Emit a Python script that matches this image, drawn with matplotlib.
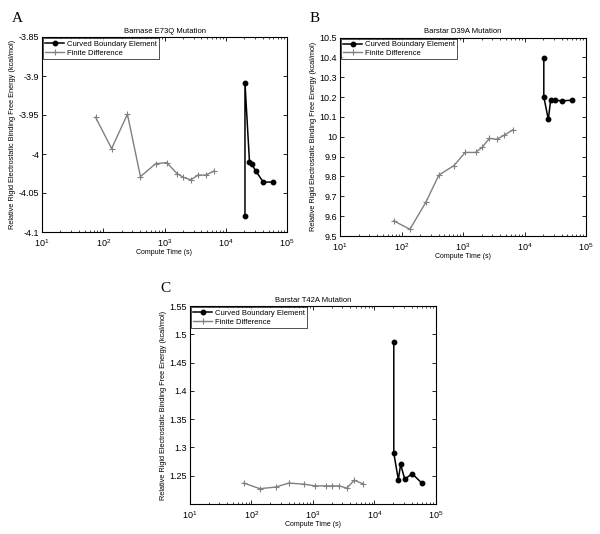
import matplotlib
matplotlib.use("Agg")
import matplotlib.pyplot as plt
from matplotlib.ticker import LogLocator, NullFormatter, FixedLocator

plt.rcParams['font.family'] = ['Liberation Sans', 'DejaVu Sans']
plt.rcParams['mathtext.fontset'] = 'custom'
plt.rcParams['mathtext.rm'] = 'Liberation Sans'

# Data
fd_time = [75, 137, 248, 405, 715, 1085, 1600, 2040, 2690, 3550, 4690, 6400]
cbe_time = [20600, 20600, 24400, 26600, 31000, 41000, 58800]

fd_A = [-3.953, -3.993, -3.949, -4.029, -4.0125, -4.011, -4.025, -4.030, -4.033, -4.027, -4.027, -4.022]
cbe_A = [-4.080, -3.909, -4.010, -4.013, -4.022, -4.036, -4.036]

fd_B = [9.576, 9.534, 9.669, 9.807, 9.855, 9.921, 9.921, 9.946, 9.992, 9.987, 10.008, 10.034]
cbe_B = [10.398, 10.201, 10.087, 10.184, 10.184, 10.181, 10.184]

fd_C = [1.237, 1.227, 1.230, 1.237, 1.235, 1.232, 1.232, 1.232, 1.232, 1.228, 1.242, 1.236]
cbe_C = [1.486, 1.290, 1.243, 1.270, 1.244, 1.2535, 1.237]

titles = ["Barnase E73Q Mutation", "Barstar D39A Mutation", "Barstar T42A Mutation"]
letters = ["A", "B", "C"]
ylims = [(-4.1, -3.85), (9.5, 10.5), (1.2, 1.55)]
yticks = [
    [-4.1, -4.05, -4.0, -3.95, -3.9, -3.85],
    [9.5, 9.6, 9.7, 9.8, 9.9, 10.0, 10.1, 10.2, 10.3, 10.4, 10.5],
    [1.25, 1.3, 1.35, 1.4, 1.45, 1.5, 1.55],
]
yticklabels = [
    ["-4.1", "-4.05", "-4", "-3.95", "-3.9", "-3.85"],
    ["9.5", "9.6", "9.7", "9.8", "9.9", "10", "10.1", "10.2", "10.3", "10.4", "10.5"],
    ["1.25", "1.3", "1.35", "1.4", "1.45", "1.5", "1.55"],
]
fd_all = [fd_A, fd_B, fd_C]
cbe_all = [cbe_A, cbe_B, cbe_C]

W, H = 600, 534
fig = plt.figure(figsize=(W / 100, H / 100), dpi=100)

# pixel boxes: left, top, right, bottom
boxes = [(42, 37, 287, 232), (340, 37.5, 586, 236), (190, 306, 436, 504)]
letter_pos = [(12, 22), (310, 22), (160, 292)]

gray = '#808080'
for i in range(3):
    l, t, r, b = boxes[i]
    ax = fig.add_axes([l / W, 1 - b / H, (r - l) / W, (b - t) / H])
    ax.plot(cbe_time, cbe_all[i], color='black', lw=1.1, marker='o', ms=3.2,
            label='Curved Boundary Element')
    ax.plot(fd_time, fd_all[i], color=gray, lw=1.0, marker='+', ms=5, mew=0.8,
            label='Finite Difference')
    ax.set_xscale('log')
    ax.set_xlim(10, 1e5)
    ax.set_ylim(*ylims[i])
    ax.xaxis.set_major_locator(FixedLocator([10, 100, 1000, 1e4, 1e5]))
    ax.xaxis.set_minor_locator(LogLocator(base=10, subs=range(2, 10), numticks=20))
    ax.xaxis.set_minor_formatter(NullFormatter())
    ax.set_yticks(yticks[i])
    ax.set_yticklabels(yticklabels[i])
    ax.tick_params(which='both', direction='in', top=True, right=True,
                   labelsize=6.5)
    ax.tick_params(axis='x', pad=3.5)
    ax.tick_params(axis='y', pad=2)
    ax.tick_params(which='major', length=3, width=0.6)
    ax.tick_params(which='minor', length=1.6, width=0.5)
    for s in ax.spines.values():
        s.set_linewidth(0.8)
    ax.set_title(titles[i], fontsize=5.5, pad=3)
    ax.set_xlabel('Compute Time (s)', fontsize=5, labelpad=0.5)
    ax.set_ylabel('Relative Rigid Electrostatic Binding Free Energy (kcal/mol)',
                  fontsize=5.3, labelpad=2)
    leg = ax.legend(loc='upper left', fontsize=5.5, frameon=True, fancybox=False,
                    borderaxespad=0.15, handlelength=2.4, handletextpad=0.4,
                    borderpad=0.3, labelspacing=0.2)
    leg.get_frame().set_edgecolor('black')
    leg.get_frame().set_linewidth(0.6)
    fig.text(letter_pos[i][0] / W, 1 - letter_pos[i][1] / H, letters[i],
             fontsize=11, family='Liberation Serif', ha='left', va='baseline')

fig.savefig('out.png', dpi=100)
